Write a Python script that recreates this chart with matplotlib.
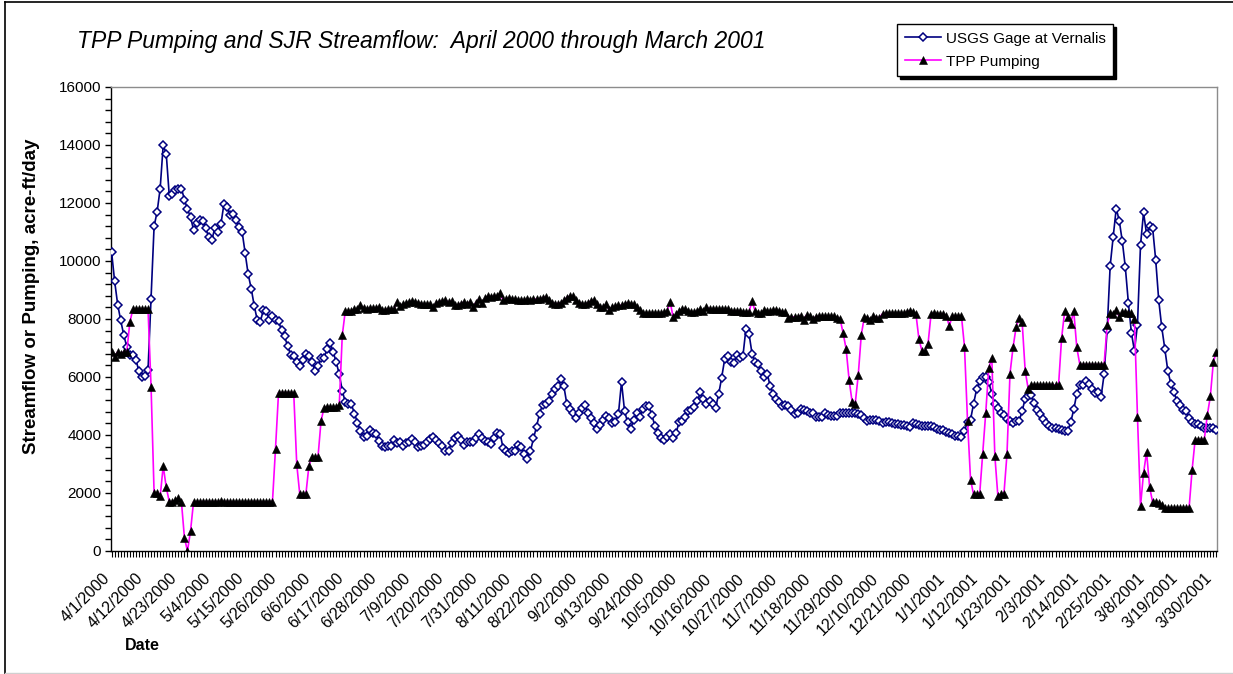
import matplotlib
matplotlib.use("Agg")
import matplotlib.pyplot as plt
import numpy as np
from matplotlib.ticker import MultipleLocator
from matplotlib.transforms import ScaledTranslation
from matplotlib.lines import Line2D

plt.rcParams['font.family'] = ['Liberation Sans', 'DejaVu Sans']

# Daily values, 4/1/2000 through 3/31/2001 (acre-ft/day)
streamflow = [
    10300, 9300, 8500, 7950, 7450, 7040, 6750, 6750, 6600, 6200,
    6000, 6050, 6250, 8700, 11200, 11700, 12500, 14000, 13700, 12250,
    12300, 12450, 12500, 12500, 12120, 11780, 11520, 11070, 11310, 11420,
    11380, 11130, 10820, 10720, 11130, 11010, 11260, 11960, 11850, 11600,
    11630, 11400, 11180, 11010, 10280, 9540, 9050, 8450, 7960, 7910,
    8310, 8280, 7950, 8110, 7980, 7920, 7610, 7400, 7060, 6770,
    6740, 6520, 6380, 6580, 6790, 6710, 6520, 6210, 6390, 6670,
    6670, 6970, 7180, 6870, 6510, 6100, 5530, 5130, 5080, 5060,
    4740, 4430, 4130, 3930, 3970, 4160, 4080, 4050, 3780, 3630,
    3590, 3610, 3630, 3840, 3740, 3750, 3620, 3720, 3760, 3850,
    3770, 3570, 3620, 3640, 3750, 3860, 3920, 3840, 3740, 3630,
    3440, 3450, 3740, 3880, 3950, 3820, 3650, 3750, 3760, 3770,
    3900, 4050, 3880, 3790, 3750, 3700, 3910, 4070, 4050, 3540,
    3450, 3380, 3440, 3450, 3640, 3570, 3330, 3180, 3450, 3880,
    4290, 4740, 5050, 5080, 5160, 5430, 5570, 5690, 5920, 5690,
    5060, 4910, 4770, 4580, 4770, 4940, 5040, 4750, 4580, 4430,
    4220, 4350, 4530, 4640, 4580, 4430, 4440, 4740, 5830, 4830,
    4440, 4200, 4530, 4760, 4630, 4900, 4990, 5000, 4680, 4320,
    4070, 3900, 3820, 3940, 4050, 3880, 4080, 4450, 4480, 4620,
    4820, 4850, 4960, 5170, 5470, 5250, 5080, 5170, 5080, 4940,
    5400, 5980, 6620, 6720, 6510, 6490, 6760, 6670, 6720, 7670,
    7500, 6810, 6520, 6460, 6200, 6000, 6120, 5680, 5430, 5250,
    5140, 5010, 5040, 4990, 4860, 4740, 4760, 4890, 4870, 4830,
    4770, 4750, 4620, 4620, 4620, 4750, 4680, 4670, 4670, 4660,
    4760, 4760, 4760, 4760, 4760, 4760, 4740, 4690, 4600, 4500,
    4530, 4530, 4530, 4480, 4420, 4450, 4460, 4410, 4390, 4390,
    4330, 4360, 4300, 4280, 4410, 4390, 4360, 4310, 4300, 4320,
    4320, 4260, 4220, 4170, 4160, 4120, 4070, 4020, 3980, 3980,
    3930, 4140, 4460, 4530, 5080, 5580, 5860, 6000, 6000, 5820,
    5430, 5060, 4930, 4770, 4700, 4550, 4480, 4420, 4480, 4480,
    4830, 5250, 5330, 5370, 5100, 4870, 4740, 4550, 4430, 4300,
    4240, 4250, 4220, 4160, 4140, 4140, 4440, 4880, 5430, 5710,
    5720, 5860, 5750, 5570, 5460, 5480, 5310, 6090, 7610, 9830,
    10840, 11810, 11390, 10680, 9780, 8560, 7520, 6900, 7810, 10550,
    11680, 10920, 11220, 11130, 10040, 8650, 7710, 6980, 6210, 5770,
    5480, 5170, 5020, 4870, 4830, 4580, 4460, 4390, 4390, 4320,
    4240, 4240, 4240, 4240, 4180,
]

pumping = [
    6870, 6690, 6870, 6790, 6870, 6870, 7880, 8340, 8340, 8340,
    8340, 8340, 8340, 5660, 2000, 2000, 1880, 2930, 2200, 1700,
    1700, 1750, 1820, 1700, 450, 0, 690, 1700, 1700, 1700,
    1700, 1700, 1700, 1700, 1700, 1700, 1710, 1700, 1700, 1700,
    1690, 1680, 1680, 1680, 1680, 1680, 1700, 1700, 1700, 1690,
    1690, 1690, 1690, 1700, 3530, 5460, 5460, 5460, 5460, 5460,
    5460, 2990, 1950, 1950, 1950, 2930, 3240, 3240, 3240, 4480,
    4940, 4970, 4970, 4970, 4970, 5020, 7440, 8280, 8280, 8280,
    8330, 8340, 8470, 8370, 8340, 8370, 8370, 8370, 8400, 8310,
    8310, 8340, 8340, 8340, 8600, 8440, 8510, 8540, 8580, 8610,
    8580, 8560, 8530, 8510, 8510, 8510, 8420, 8560, 8590, 8620,
    8650, 8580, 8610, 8470, 8490, 8530, 8580, 8530, 8580, 8420,
    8560, 8690, 8560, 8710, 8790, 8760, 8790, 8790, 8880, 8650,
    8680, 8720, 8690, 8680, 8660, 8650, 8650, 8680, 8660, 8690,
    8680, 8700, 8720, 8760, 8650, 8560, 8530, 8530, 8560, 8640,
    8740, 8790, 8790, 8650, 8560, 8530, 8510, 8560, 8630, 8650,
    8520, 8420, 8420, 8510, 8310, 8420, 8440, 8470, 8470, 8510,
    8560, 8510, 8510, 8420, 8310, 8200, 8200, 8200, 8200, 8200,
    8200, 8200, 8230, 8260, 8600, 8070, 8170, 8280, 8330, 8330,
    8280, 8240, 8240, 8280, 8330, 8280, 8400, 8350, 8330, 8330,
    8330, 8330, 8330, 8330, 8280, 8280, 8280, 8280, 8240, 8240,
    8240, 8610, 8280, 8190, 8210, 8300, 8280, 8280, 8300, 8300,
    8280, 8240, 8240, 8050, 8070, 8070, 8070, 8120, 7980, 8140,
    8100, 8010, 8070, 8100, 8100, 8100, 8100, 8100, 8100, 8050,
    8010, 7520, 6970, 5890, 5130, 5080, 6070, 7450, 8070, 8050,
    7980, 8100, 8050, 8050, 8180, 8200, 8200, 8200, 8200, 8200,
    8200, 8200, 8240, 8280, 8240, 8180, 7300, 6900, 6900, 7150,
    8180, 8200, 8180, 8160, 8180, 8120, 7760, 8110, 8100, 8100,
    8100, 7050, 4500, 2460, 1950, 1950, 1950, 3330, 4760, 6300,
    6670, 3290, 1900, 1970, 1970, 3330, 6120, 7020, 7710, 8050,
    7900, 6210, 5590, 5720, 5720, 5720, 5720, 5720, 5720, 5720,
    5720, 5720, 5720, 7340, 8260, 8080, 7840, 8280, 7020, 6430,
    6430, 6430, 6430, 6430, 6430, 6430, 6430, 6430, 7780, 8210,
    8180, 8310, 8070, 8240, 8240, 8210, 8210, 7990, 4620, 1550,
    2690, 3410, 2200, 1680, 1680, 1650, 1570, 1480, 1480, 1480,
    1480, 1480, 1480, 1480, 1480, 1480, 2800, 3840, 3840, 3840,
    3840, 4680, 5330, 6520, 6870,
]

tick_labels = [
    '4/1/2000', '4/12/2000', '4/23/2000', '5/4/2000', '5/15/2000',
    '5/26/2000', '6/6/2000', '6/17/2000', '6/28/2000', '7/9/2000',
    '7/20/2000', '7/31/2000', '8/11/2000', '8/22/2000', '9/2/2000',
    '9/13/2000', '9/24/2000', '10/5/2000', '10/16/2000', '10/27/2000',
    '11/7/2000', '11/18/2000', '11/29/2000', '12/10/2000', '12/21/2000',
    '1/1/2001', '1/12/2001', '1/23/2001', '2/3/2001', '2/14/2001',
    '2/25/2001', '3/8/2001', '3/19/2001', '3/30/2001',
]
label_every = 11  # days between labelled dates

W, H = 1233, 674
fig = plt.figure(figsize=(W / 100, H / 100), dpi=100)
ax = fig.add_axes([111 / W, 1 - 551 / H, (1217 - 111) / W, (551 - 87) / H])

days = np.arange(len(streamflow))
ax.plot(days, streamflow, color='#000080', lw=1.2, marker='D', ms=4.2,
        mfc='white', mec='#000080', mew=1.1, label='USGS Gage at Vernalis',
        zorder=3)
ax.plot(np.arange(len(pumping)), pumping, color='#FF00FF', lw=1.2,
        marker='^', ms=5.5, mfc='black', mec='black', mew=0.4,
        label='TPP Pumping', zorder=4)

ax.set_xlim(-0.2, len(streamflow) - 0.8)
ax.set_ylim(0, 16000)

ax.yaxis.set_major_locator(MultipleLocator(2000))
ax.yaxis.set_minor_locator(MultipleLocator(400))
ax.set_yticklabels([f'{int(v)}' for v in ax.get_yticks()])
ax.set_xticks(np.arange(len(tick_labels)) * label_every)
ax.set_xticklabels(tick_labels)
ax.xaxis.set_minor_locator(MultipleLocator(1))

ax.tick_params(axis='y', which='both', direction='out', length=4, width=1,
               labelsize=11, pad=3)
ax.tick_params(axis='x', which='both', direction='out', length=4, width=0.8,
               labelsize=11.5, pad=14)

shift = ScaledTranslation(-4 / 100, 0, fig.dpi_scale_trans)
for lab in ax.get_xticklabels():
    lab.set_rotation(45)
    lab.set_ha('right')
    lab.set_va('center')
    lab.set_rotation_mode('anchor')
    lab.set_transform(lab.get_transform() + shift)

for side in ('left', 'bottom'):
    ax.spines[side].set_color('black')
    ax.spines[side].set_linewidth(1.0)
for side in ('top', 'right'):
    ax.spines[side].set_color('#8c8c8c')
    ax.spines[side].set_linewidth(1.0)

fig.text(77 / W, 1 - 48 / H,
         'TPP Pumping and SJR Streamflow:  April 2000 through March 2001',
         fontsize=16.5, style='italic', ha='left', va='baseline')
fig.text(32 / W, 1 - 296 / H, 'Streamflow or Pumping, acre-ft/day',
         fontsize=13.5, fontweight='bold', rotation=90, ha='center', va='center')
fig.text(142 / W, 1 - 646 / H, 'Date', fontsize=11.5, fontweight='bold',
         ha='center', va='center')

leg = ax.legend(loc='upper left', bbox_to_anchor=(897 / W, 1 - 24 / H),
                bbox_transform=fig.transFigure, frameon=True, fancybox=False,
                edgecolor='black', framealpha=1,
                shadow={'color': 'black', 'alpha': 1},
                fontsize=11, handlelength=2.4, handletextpad=0.3,
                borderpad=0.5, labelspacing=0.6, borderaxespad=0)
leg.get_frame().set_linewidth(1.0)

# chart-area border
fig.add_artist(Line2D([5 / W, 5 / W], [0, 1 - 2 / H], transform=fig.transFigure,
                      color='black', lw=1.2))
fig.add_artist(Line2D([5 / W, 1], [1 - 2 / H, 1 - 2 / H], transform=fig.transFigure,
                      color='black', lw=1.2))
fig.add_artist(Line2D([5 / W, 1], [1.5 / H, 1.5 / H], transform=fig.transFigure,
                      color='#d0d0d0', lw=1.0))

fig.savefig('out.png', dpi=100)
